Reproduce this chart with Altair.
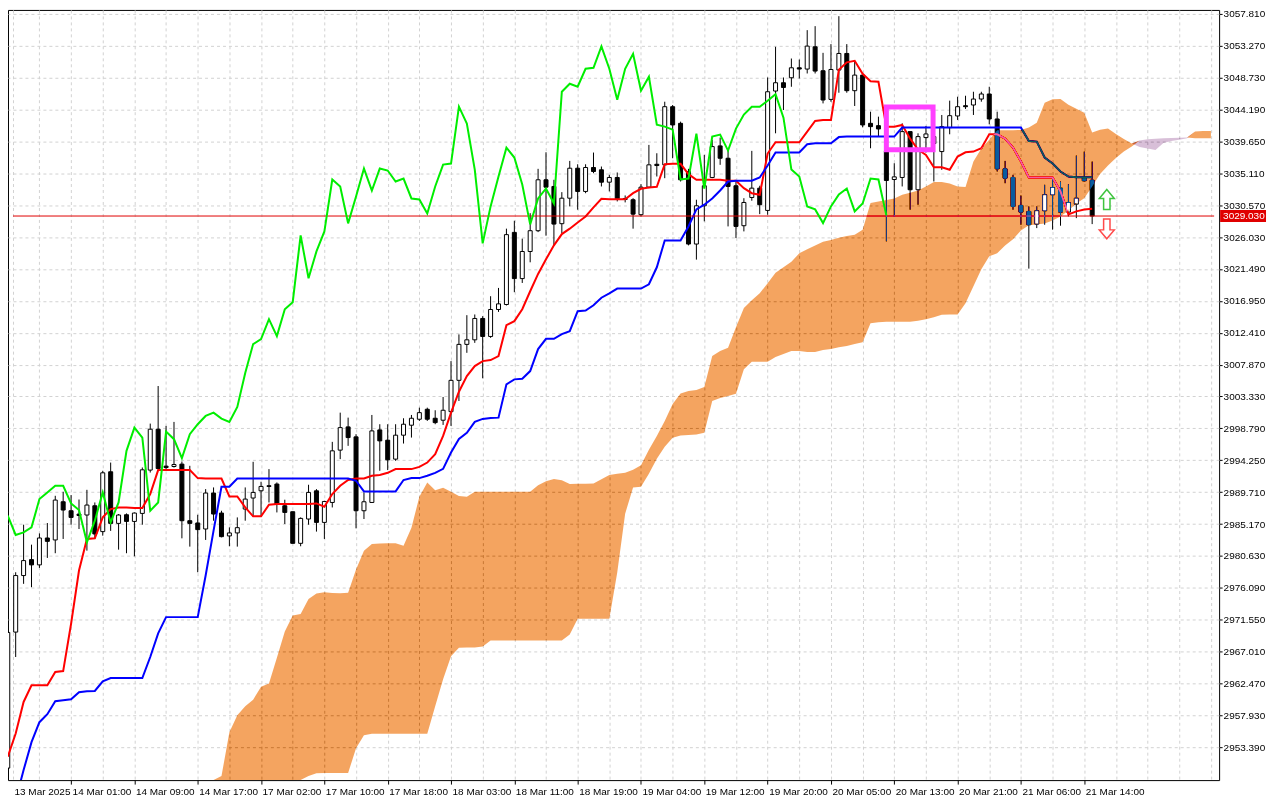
import json
import altair as alt
import pandas as pd

# ---------------- data (XAUUSD H1, Ichimoku) ----------------
opens = [2950.41, 2969.78, 2977.83, 2980.10, 2979.35, 2983.18, 2982.90, 2988.34, 2987.06, 2986.58,
         2986.45, 2987.77, 2984.09, 2992.61, 2985.26, 2986.49, 2985.54, 2986.68, 2992.85, 2998.67,
         2993.41, 2993.36, 2993.70, 2985.64, 2985.32, 2984.46, 2989.58, 2986.73, 2983.47, 2983.90,
         2987.30, 2988.87, 2989.90, 2990.62, 2990.86, 2987.77, 2986.92, 2982.42, 2985.88, 2989.90,
         2985.40, 2988.24, 2995.69, 2999.00, 2997.58, 2987.06, 2988.24, 2998.57, 2997.11, 2994.41,
         2997.82, 2999.24, 3000.09, 3001.51, 3000.23, 2999.95, 3001.17, 3005.63, 3010.75, 3011.40,
         3014.44, 3011.88, 3015.72, 3016.43, 3026.70, 3020.12, 3023.98, 3026.94, 3034.19, 3033.24,
         3027.94, 3031.57, 3035.84, 3032.53, 3035.94, 3035.61, 3033.85, 3034.52, 3031.53, 3031.35,
         3029.22, 3033.14, 3036.40, 3036.32, 3044.60, 3042.23, 3035.37, 3025.04, 3030.49, 3034.52,
         3039.02, 3037.26, 3033.34, 3027.65, 3031.67, 3033.00, 3029.83, 3046.83, 3048.01, 3048.72,
         3050.14, 3049.96, 3053.13, 3049.72, 3045.64, 3049.82, 3052.18, 3046.88, 3049.10, 3042.23,
         3041.90, 3038.31, 3034.23, 3034.52, 3041.05, 3032.77, 3040.20, 3039.35, 3038.21, 3041.62,
         3043.28, 3044.74, 3044.84, 3045.69, 3046.41, 3042.85, 3035.75, 3034.52, 3030.54, 3029.68,
         3027.88, 3029.78, 3032.06, 3033.00, 3029.59, 3030.72, 3034.52, 3034.13]
highs = [2970.00, 2978.30, 2985.07, 2982.23, 2983.83, 2985.31, 2989.19, 2989.76, 2989.29, 2988.66,
         2990.04, 2988.24, 2992.75, 2993.92, 2986.59, 2986.68, 2986.82, 2993.22, 2999.47, 3004.82,
         2999.14, 2999.71, 2994.07, 2993.46, 2986.49, 2990.14, 2990.38, 2987.06, 2984.69, 2986.11,
         2990.38, 2994.03, 2991.19, 2992.99, 2991.09, 2988.63, 2986.92, 2986.11, 2990.76, 2990.14,
         2988.48, 2996.87, 3001.03, 3000.32, 2997.96, 2989.67, 3000.70, 2999.38, 2999.38, 2999.38,
         3000.23, 3000.70, 3001.74, 3001.74, 3001.37, 3003.26, 3008.37, 3012.17, 3014.91, 3015.01,
         3014.77, 3017.61, 3018.79, 3027.23, 3028.36, 3025.81, 3029.44, 3035.75, 3038.11, 3034.19,
         3032.43, 3036.88, 3036.40, 3036.40, 3038.07, 3036.08, 3034.90, 3035.23, 3031.96, 3031.57,
         3033.56, 3039.16, 3037.97, 3045.31, 3044.84, 3042.47, 3035.75, 3031.35, 3037.74, 3039.87,
         3040.20, 3038.45, 3033.95, 3031.57, 3038.31, 3033.34, 3048.76, 3053.13, 3048.76, 3051.46,
         3051.32, 3055.50, 3056.07, 3052.27, 3053.51, 3057.49, 3053.51, 3051.00, 3049.10, 3043.89,
         3043.18, 3038.68, 3036.55, 3042.23, 3041.05, 3040.81, 3041.86, 3041.33, 3043.42, 3045.46,
         3046.02, 3046.16, 3046.73, 3046.73, 3047.44, 3043.89, 3036.88, 3034.90, 3031.96, 3030.40,
         3030.40, 3033.48, 3034.42, 3033.95, 3033.56, 3037.64, 3038.21, 3036.79]
lows = [2948.00, 2966.23, 2976.65, 2976.17, 2978.92, 2980.34, 2981.01, 2983.04, 2985.07, 2984.46,
        2981.38, 2983.04, 2983.51, 2984.19, 2981.52, 2981.01, 2980.57, 2985.07, 2992.50, 2993.03,
        2992.75, 2993.21, 2983.13, 2981.95, 2978.30, 2982.90, 2985.64, 2983.27, 2982.00, 2981.95,
        2985.64, 2986.21, 2986.21, 2988.24, 2986.82, 2985.17, 2982.42, 2982.00, 2985.07, 2984.09,
        2983.04, 2987.53, 2994.41, 2996.30, 2984.55, 2985.88, 2988.24, 2992.75, 2992.85, 2994.17,
        2996.63, 2997.48, 2999.85, 2999.85, 2999.38, 2999.28, 2999.14, 3002.69, 3009.55, 3010.97,
        3005.92, 3011.68, 3015.38, 3016.29, 3018.18, 3019.50, 3022.44, 3026.74, 3026.23, 3024.85,
        3026.60, 3030.40, 3029.93, 3032.28, 3035.13, 3033.24, 3032.53, 3031.11, 3030.97, 3027.23,
        3028.97, 3033.00, 3034.66, 3034.42, 3037.26, 3033.95, 3024.85, 3022.82, 3028.27, 3034.42,
        3036.32, 3027.55, 3025.89, 3026.84, 3031.21, 3029.30, 3029.22, 3040.81, 3044.13, 3047.44,
        3048.62, 3049.33, 3049.33, 3045.07, 3045.31, 3046.59, 3046.59, 3044.70, 3041.66, 3038.68,
        3040.34, 3025.42, 3028.97, 3033.24, 3029.93, 3030.64, 3038.07, 3033.95, 3035.61, 3040.67,
        3042.71, 3044.28, 3043.42, 3045.31, 3042.09, 3035.37, 3033.70, 3029.93, 3027.79, 3021.54,
        3027.31, 3027.79, 3027.09, 3027.65, 3028.97, 3028.73, 3033.95, 3027.88]
closes = [2969.73, 2977.83, 2979.96, 2979.35, 2983.18, 2982.70, 2988.58, 2987.16, 2986.11, 2986.38,
          2987.87, 2983.75, 2992.46, 2985.26, 2986.45, 2985.54, 2986.73, 2992.89, 2998.67, 2993.07,
          2993.21, 2993.64, 2985.64, 2985.26, 2984.37, 2989.58, 2986.59, 2983.37, 2983.90, 2984.65,
          2988.72, 2989.67, 2990.52, 2990.52, 2988.01, 2986.82, 2982.42, 2985.97, 2989.67, 2985.40,
          2988.38, 2995.59, 2998.90, 2997.48, 2987.06, 2988.34, 2998.43, 2997.01, 2994.31, 2997.82,
          2999.38, 3000.23, 3001.03, 3000.09, 2999.61, 3001.37, 3005.63, 3010.75, 3011.40, 3014.44,
          3011.88, 3015.72, 3016.52, 3026.38, 3020.12, 3023.98, 3026.94, 3034.19, 3033.14, 3027.88,
          3031.57, 3035.84, 3032.53, 3035.94, 3035.37, 3033.85, 3034.52, 3031.49, 3031.39, 3029.30,
          3033.14, 3036.32, 3036.22, 3044.60, 3042.00, 3034.19, 3025.04, 3030.49, 3033.34, 3038.92,
          3037.26, 3033.24, 3027.55, 3030.96, 3033.00, 3030.64, 3046.73, 3048.01, 3047.34, 3050.14,
          3049.96, 3053.23, 3049.67, 3045.55, 3049.90, 3052.18, 3046.88, 3049.10, 3042.00, 3041.76,
          3041.43, 3034.09, 3034.61, 3041.05, 3032.77, 3040.34, 3040.72, 3040.34, 3041.76, 3043.32,
          3044.60, 3044.60, 3045.69, 3046.41, 3042.85, 3035.75, 3034.42, 3030.40, 3029.59, 3027.79,
          3029.78, 3032.06, 3033.09, 3029.59, 3030.96, 3031.57, 3034.05, 3029.03]

tenkan = [2952.02, 2955.34, 2959.83, 2962.20, 2962.20, 2962.20, 2964.09, 2964.23, 2970.97, 2978.54,
          2983.04, 2983.13, 2986.11, 2987.30, 2987.53, 2987.53, 2987.45, 2987.45, 2989.44, 2992.85,
          2992.85, 2992.85, 2992.85, 2992.85, 2991.71, 2991.65, 2991.65, 2991.65, 2989.10, 2989.10,
          2987.53, 2986.26, 2986.26, 2987.92, 2988.01, 2988.01, 2988.01, 2988.01, 2988.01, 2988.10,
          2987.63, 2989.44, 2990.62, 2991.43, 2991.65, 2991.65, 2992.04, 2992.14, 2992.46, 2992.99,
          2992.99, 2992.99, 2993.31, 2993.92, 2995.12, 2997.72, 3001.03, 3004.01, 3006.24, 3007.66,
          3008.37, 3008.52, 3009.08, 3013.49, 3014.06, 3015.76, 3018.32, 3020.78, 3022.87, 3024.85,
          3026.46, 3027.23, 3028.12, 3028.97, 3030.25, 3031.49, 3031.43, 3031.43, 3031.43, 3032.28,
          3032.91, 3033.09, 3033.19, 3036.40, 3036.46, 3036.46, 3034.99, 3034.19, 3034.19, 3034.19,
          3034.19, 3034.05, 3034.05, 3033.00, 3032.28, 3032.06, 3037.93, 3039.53, 3039.53, 3039.53,
          3039.53, 3041.05, 3042.57, 3042.71, 3042.71, 3049.86, 3050.92, 3051.14, 3049.29, 3048.22,
          3048.15, 3041.76, 3041.76, 3042.00, 3040.05, 3038.49, 3037.74, 3035.98, 3035.98, 3035.61,
          3037.50, 3038.11, 3038.21, 3038.68, 3040.67, 3040.67, 3040.05, 3038.78, 3036.79, 3034.52,
          3034.52, 3034.52, 3034.52, 3032.53, 3029.26, 3029.69, 3029.97, 3030.07]
kijun = [2943.02, 2945.86, 2950.13, 2954.10, 2956.95, 2958.08, 2959.93, 2960.07, 2960.21, 2961.21,
         2961.35, 2961.39, 2962.77, 2963.24, 2963.24, 2963.24, 2963.24, 2963.24, 2966.23, 2969.59,
         2971.91, 2971.91, 2971.91, 2971.91, 2971.91, 2977.83, 2984.22, 2990.47, 2990.47, 2991.65,
         2991.65, 2991.65, 2991.65, 2991.65, 2991.65, 2991.65, 2991.65, 2991.65, 2991.65, 2991.65,
         2991.65, 2991.65, 2991.65, 2991.65, 2991.33, 2989.81, 2989.81, 2989.81, 2989.81, 2989.81,
         2991.43, 2991.71, 2991.71, 2992.04, 2992.46, 2993.03, 2995.35, 2997.29, 2998.15, 2999.71,
         3000.14, 3000.28, 3000.32, 3005.06, 3005.77, 3005.86, 3006.95, 3010.08, 3011.54, 3011.54,
         3012.21, 3012.64, 3015.48, 3015.58, 3016.33, 3017.40, 3018.03, 3018.70, 3018.70, 3018.70,
         3018.70, 3019.31, 3021.73, 3025.56, 3025.56, 3025.56, 3027.55, 3029.97, 3030.64, 3031.53,
         3032.67, 3033.95, 3034.05, 3034.05, 3034.05, 3034.52, 3036.22, 3038.07, 3038.07, 3038.07,
         3038.07, 3039.25, 3039.39, 3039.39, 3039.39, 3040.27, 3040.34, 3040.34, 3040.34, 3040.34,
         3040.34, 3040.34, 3040.34, 3041.62, 3041.62, 3041.62, 3041.62, 3041.62, 3041.62, 3041.62,
         3041.62, 3041.62, 3041.62, 3041.62, 3041.62, 3041.62, 3041.62, 3041.62, 3041.62, 3039.70,
         3039.63, 3037.36, 3036.50, 3035.37, 3034.66, 3034.56, 3034.56, 3034.56]
chikou = [2986.36, 2983.61, 2983.98, 2984.69, 2988.72, 2989.67, 2990.62, 2990.62, 2988.10, 2987.16,
          2982.56, 2985.64, 2989.67, 2985.40, 2988.24, 2995.59, 2998.90, 2997.48, 2987.06, 2988.24,
          2998.33, 2997.25, 2994.55, 2997.96, 2999.38, 3000.56, 3001.03, 3000.18, 2999.71, 3001.84,
          3006.67, 3010.79, 3011.50, 3014.34, 3011.93, 3015.76, 3016.76, 3026.28, 3020.17, 3024.00,
          3026.84, 3034.23, 3033.24, 3027.98, 3031.82, 3035.79, 3032.67, 3035.79, 3035.51, 3033.95,
          3034.37, 3031.53, 3031.39, 3029.40, 3033.24, 3036.36, 3036.50, 3044.60, 3042.19, 3035.65,
          3025.14, 3030.40, 3034.66, 3038.77, 3037.36, 3033.52, 3027.84, 3031.53, 3032.95, 3030.82,
          3046.73, 3047.87, 3047.44, 3050.00, 3050.14, 3053.19, 3050.00, 3045.60, 3050.00, 3052.13,
          3046.88, 3048.86, 3042.05, 3041.76, 3041.33, 3034.23, 3034.37, 3040.77, 3032.95, 3040.34,
          3040.62, 3038.35, 3041.48, 3043.47, 3044.60, 3044.60, 3045.45, 3046.38, 3043.04, 3035.65,
          3034.66, 3030.40, 3029.97, 3028.02, 3030.40, 3032.10, 3032.95, 3029.69, 3030.82, 3034.37,
          3034.23, 3029.12]

CLOUD_START = 26
span_a = [2948.70, 2949.27, 2955.52, 2957.94, 2959.22, 2960.14, 2961.99, 2962.44, 2966.11, 2969.87,
          2972.15, 2972.36, 2974.49, 2975.27, 2975.46, 2975.35, 2975.32, 2975.37, 2978.68, 2981.38,
          2982.33, 2982.38, 2982.42, 2982.42, 2982.09, 2984.65, 2989.05, 2991.09, 2989.98, 2990.33,
          2989.76, 2989.15, 2989.05, 2989.76, 2989.76, 2989.76, 2989.76, 2989.76, 2989.76, 2989.76,
          2989.76, 2990.69, 2991.25, 2991.57, 2991.40, 2990.86, 2990.90, 2990.90, 2990.94, 2991.54,
          2992.14, 2992.32, 2992.46, 2992.89, 2993.53, 2995.73, 2997.72, 2999.85, 3002.27, 3003.76,
          3004.11, 3004.26, 3004.68, 3009.08, 3009.80, 3010.26, 3013.20, 3015.94, 3017.04, 3018.03,
          3019.46, 3020.95, 3021.73, 3022.51, 3023.72, 3024.29, 3024.85, 3025.35, 3025.61, 3025.95,
          3026.20, 3026.37, 3027.08, 3030.89, 3031.11, 3031.32, 3031.53, 3032.06, 3032.34, 3032.67,
          3033.24, 3033.88, 3033.88, 3033.66, 3033.24, 3033.17, 3036.79, 3038.64, 3039.91, 3041.26,
          3041.26, 3041.26, 3041.29, 3041.62, 3042.33, 3045.17, 3045.67, 3045.70, 3044.89, 3044.32,
          3043.75, 3040.91, 3041.33, 3041.48, 3040.70, 3039.99, 3039.35, 3038.85, 3038.64, 3038.45,
          3039.42, 3039.70, 3039.91, 3040.10, 3041.05, 3041.15, 3041.15]
span_b = [2948.70, 2948.70, 2948.70, 2948.70, 2948.70, 2948.70, 2948.70, 2948.70, 2948.70, 2948.70,
          2948.70, 2948.70, 2949.27, 2949.66, 2949.70, 2949.70, 2949.70, 2949.70, 2953.25, 2955.10,
          2955.31, 2955.31, 2955.31, 2955.31, 2955.31, 2955.31, 2955.31, 2955.31, 2959.22, 2963.05,
          2966.33, 2967.56, 2967.60, 2967.60, 2967.74, 2968.59, 2968.59, 2968.59, 2968.59, 2968.59,
          2968.59, 2968.59, 2968.59, 2968.59, 2968.59, 2969.45, 2971.68, 2971.68, 2971.68, 2971.68,
          2971.68, 2978.26, 2986.64, 2990.38, 2990.47, 2992.32, 2994.45, 2996.16, 2997.44, 2997.79,
          2997.86, 2997.93, 2998.15, 3002.69, 3003.12, 3003.40, 3003.73, 3007.20, 3008.28, 3008.28,
          3008.28, 3008.94, 3009.37, 3009.80, 3009.80, 3009.65, 3009.65, 3009.94, 3010.08, 3010.36,
          3010.51, 3010.79, 3011.07, 3013.77, 3013.91, 3013.98, 3013.98, 3013.98, 3013.98, 3014.13,
          3014.34, 3014.62, 3014.98, 3015.01, 3015.01, 3016.61, 3019.03, 3021.45, 3023.29, 3023.72,
          3024.85, 3025.71, 3026.98, 3027.70, 3027.84, 3027.98, 3028.41, 3028.97, 3029.83, 3030.82,
          3031.57, 3033.24, 3035.01, 3036.22, 3037.28, 3038.21, 3038.92, 3039.77, 3039.98, 3040.05,
          3040.10, 3040.13, 3040.16, 3040.20, 3040.10, 3040.10, 3040.10]

price_ticks = [3057.81, 3053.27, 3048.73, 3044.19, 3039.65, 3035.11, 3030.57, 3026.03,
               3021.49, 3016.95, 3012.41, 3007.87, 3003.33, 2998.79, 2994.25, 2989.71,
               2985.17, 2980.63, 2976.09, 2971.55, 2967.01, 2962.47, 2957.93, 2953.39]
time_labels = ["13 Mar 2025", "14 Mar 01:00", "14 Mar 09:00", "14 Mar 17:00", "17 Mar 02:00",
               "17 Mar 10:00", "17 Mar 18:00", "18 Mar 03:00", "18 Mar 11:00", "18 Mar 19:00",
               "19 Mar 04:00", "19 Mar 12:00", "19 Mar 20:00", "20 Mar 05:00", "20 Mar 13:00",
               "20 Mar 21:00", "21 Mar 06:00", "21 Mar 14:00"]
last_price = 3029.03
box_bars = [111.0, 116.9]
box_prices = [3038.46, 3044.57]
arrow_bar = 138.85
arrow_prices = [3031.39, 3027.20]

# ---------------- layout ----------------
W, H = 1214, 772
X_MIN, X_MAX = 0.66, 152.41
Y_MIN, Y_MAX = 2948.70, 3058.38
FONT = "Liberation Sans"

xscale = alt.Scale(domain=[X_MIN, X_MAX], nice=False, zero=False)
yscale = alt.Scale(domain=[Y_MIN, Y_MAX], nice=False, zero=False)
lab = json.dumps(time_labels)
xaxis = alt.Axis(
    values=[X_MIN] + list(range(4, 153, 4)),
    labelExpr=f"datum.value < 1 ? {lab}[0] : ((datum.value % 8 === 0 && datum.value <= 136) ? {lab}[datum.value / 8] : '')",
    grid=True, gridColor="#d2d2d2", gridDash=[3, 3], gridWidth=1,
    domain=False, ticks=True, tickSize=4, tickColor="black",
    tickOpacity={"condition": {"test": "datum.value % 8 === 0 && datum.value <= 136", "value": 1},
                 "value": 0},
    labelAlign="left", labelOffset=1, labelPadding=2, labelFont=FONT, labelFontSize=10,
    labelColor="black", labelOverlap=False, labelFlush=False, title=None)
yaxis = alt.Axis(
    orient="right", values=price_ticks, format=".3f",
    grid=True, gridColor="#d2d2d2", gridDash=[3, 3], gridWidth=1,
    domain=False, ticks=True, tickSize=3, tickColor="black", labelPadding=1,
    labelFont=FONT, labelFontSize=10, labelColor="black", labelOverlap=False,
    labelFlush=False, title=None)


def X(f):
    return alt.X(f, type="quantitative", scale=xscale, axis=xaxis)


def Y(f):
    return alt.Y(f, type="quantitative", scale=yscale, axis=yaxis)


N = len(closes)
candles = pd.DataFrame({"i": list(range(N)), "o": opens, "h": highs, "l": lows, "c": closes})
candles["lo"] = candles[["o", "c"]].min(axis=1)
candles["hi"] = candles[["o", "c"]].max(axis=1)
candles["fill"] = ["#ffffff" if c >= o else "#000000" for o, c in zip(opens, closes)]

ten_df = pd.DataFrame({"i": list(range(len(tenkan))), "v": tenkan})
kij_df = pd.DataFrame({"i": list(range(len(kijun))), "v": kijun})
chi_df = pd.DataFrame({"i": list(range(len(chikou))), "v": chikou})

cl = pd.DataFrame({"i": [CLOUD_START + k for k in range(len(span_a))], "a": span_a, "b": span_b})
cl["o_top"] = [a if a >= b else b for a, b in zip(cl["a"], cl["b"])]
cl["t_top"] = [b if b > a else a for a, b in zip(cl["a"], cl["b"])]

# hollow (bullish) bodies stay white inside the cloud
rows = []
for k, (a, b) in enumerate(zip(span_a, span_b)):
    i = CLOUD_START + k
    if i >= N or a < b or closes[i] <= opens[i]:
        continue
    lo, hi = max(opens[i], b), min(closes[i], a)
    if hi - lo > 0.2:
        rows.append({"i": i, "lo": lo + 0.08, "hi": hi - 0.08})
white_in = pd.DataFrame(rows) if rows else pd.DataFrame({"i": [], "lo": [], "hi": []})

price_df = pd.DataFrame({"x0": [X_MIN], "x1": [X_MAX], "p": [last_price],
                         "lab": [f"{last_price:.3f}"]})
box_df = pd.DataFrame({"x0": [box_bars[0]], "x1": [box_bars[1]],
                       "p0": [box_prices[0]], "p1": [box_prices[1]]})
up_df = pd.DataFrame({"x": [arrow_bar], "p": [arrow_prices[0]]})
dn_df = pd.DataFrame({"x": [arrow_bar], "p": [arrow_prices[1]]})

UP = "M0,-1L0.75,-0.1L0.32,-0.1L0.32,1L-0.32,1L-0.32,-0.1L-0.75,-0.1Z"
DN = "M0,1L0.75,0.1L0.32,0.1L0.32,-1L-0.32,-1L-0.32,0.1L-0.75,0.1Z"

wicks = alt.Chart(candles).mark_rule(color="black", strokeWidth=1, clip=True).encode(
    x=X("i"), y=Y("l"), y2="h")
bodies = alt.Chart(candles).mark_bar(size=4, stroke="black", strokeWidth=1, clip=True).encode(
    x=X("i"), y=Y("lo"), y2="hi", fill=alt.Fill("fill:N", scale=None))
ten_line = alt.Chart(ten_df).mark_line(color="#ff0000", strokeWidth=2, clip=True).encode(
    x=X("i"), y=Y("v"))
kij_line = alt.Chart(kij_df).mark_line(color="#0000ff", strokeWidth=2, clip=True).encode(
    x=X("i"), y=Y("v"))
price_line = alt.Chart(price_df).mark_rule(color="#e00000", strokeWidth=1, clip=True).encode(
    x=X("x0"), x2="x1", y=Y("p"))
cloud_o = alt.Chart(cl).mark_area(fill="#0b5b9f", blend="difference", orient="vertical").encode(
    x=X("i"), y=Y("o_top"), y2="b")
cloud_t = alt.Chart(cl).mark_area(fill="#274027", blend="difference", orient="vertical").encode(
    x=X("i"), y=Y("t_top"), y2="a")
white_bodies = alt.Chart(white_in).mark_bar(size=3, fill="white", strokeWidth=0, clip=True).encode(
    x=X("i"), y=Y("lo"), y2="hi")
chi_line = alt.Chart(chi_df).mark_line(color="#00ee00", strokeWidth=2, clip=True).encode(
    x=X("i"), y=Y("v"))
box = alt.Chart(box_df).mark_rect(fill="white", fillOpacity=0, stroke="#ff40ff", strokeWidth=5).encode(
    x=X("x0"), x2="x1", y=Y("p0"), y2="p1")
up = alt.Chart(up_df).mark_point(shape=UP, size=400, filled=True, fill="white", stroke="#3fc43f",
                                 strokeWidth=1.5, opacity=1).encode(x=X("x"), y=Y("p"))
dn = alt.Chart(dn_df).mark_point(shape=DN, size=400, filled=True, fill="white", stroke="#ff4a4a",
                                 strokeWidth=1.5, opacity=1).encode(x=X("x"), y=Y("p"))
plabel_bg = alt.Chart(price_df).mark_rule(color="#e00000", strokeWidth=12).encode(
    x=alt.value(W + 1), x2=alt.value(W + 47), y=Y("p"))
plabel = alt.Chart(price_df).mark_text(color="white", font=FONT, fontSize=10, align="left",
                                       baseline="middle").encode(
    x=alt.value(W + 4), y=Y("p"), text="lab:N")

chart = alt.layer(
    wicks, bodies, ten_line, kij_line, price_line, cloud_o, cloud_t, white_bodies,
    chi_line, box, up, dn, plabel_bg, plabel
).properties(width=W, height=H, padding=0, background="white").configure_view(
    stroke="black", strokeWidth=1)

chart.save("out.html", embed_options={"renderer": "svg", "actions": False})
